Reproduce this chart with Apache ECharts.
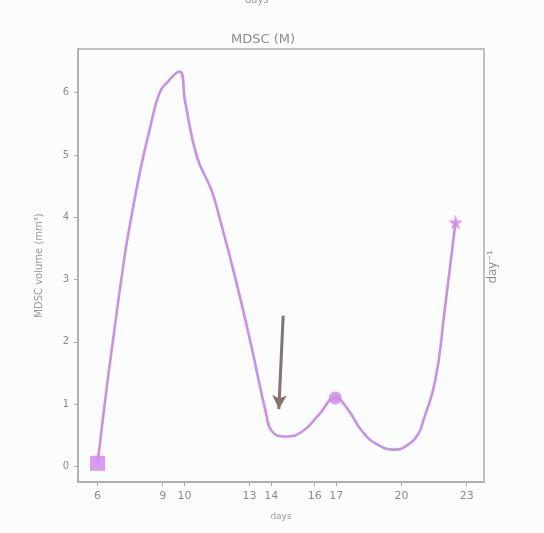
<!DOCTYPE html>
<html><head><meta charset="utf-8">
<script src="https://cdn.jsdelivr.net/npm/echarts@6/dist/echarts.min.js"></script>
<style>html,body{margin:0;padding:0;background:#fbfcfc}#c{width:544px;height:533px}</style>
</head><body><div id="c"></div>
<script>
// Data (days, MDSC volume)
const days = [6.0, 7.0, 7.76, 8.43, 8.86, 9.2, 9.76, 10.04, 10.58, 11.24, 11.61, 12.34, 13.06, 13.77, 14.04, 14.64, 15.43, 16.22, 16.95, 17.48, 18.2, 18.9, 19.7, 20.3, 20.77, 21.0, 21.55, 21.97, 22.49];
const volume = [0.05, 2.77, 4.39, 5.45, 6.0, 6.16, 6.34, 5.84, 4.97, 4.44, 4.0, 3.03, 1.97, 0.84, 0.56, 0.48, 0.56, 0.84, 1.10, 0.94, 0.56, 0.35, 0.27, 0.35, 0.52, 0.73, 1.37, 2.45, 3.92];
const markerDays = [6.0, 16.95, 22.49];
const markerValues = [0.05, 1.10, 3.92];
const xTicks = [6, 9, 10, 13, 14, 16, 17, 20, 23];
const yTicks = [0, 1, 2, 3, 4, 5, 6];
const arrowStart = [14.55, 2.42];
const arrowEnd = [14.35, 0.92];

const star = 'path://M50,0 L61,35 L98,35 L68,57 L79,92 L50,70 L21,92 L32,57 L2,35 L39,35 Z';
const markerSymbols = ['rect', 'circle', star];
const markerSizes = [15, 13, 15];

const gray = '#8c8c8c';
const chart = echarts.init(document.getElementById('c'), null, {renderer: 'canvas'});
chart.setOption({
  backgroundColor: '#fbfcfc',
  animation: false,
  title: {
    text: 'MDSC (M)', left: 258, top: 28, textAlign: 'center',
    textStyle: {fontSize: 13, fontWeight: 'normal', color: gray, fontFamily: 'DejaVu Sans'}
  },
  graphic: [
    {type: 'text', left: 245, top: -5, style: {text: 'days', fontSize: 10, fill: '#999', fontFamily: 'DejaVu Sans'}},
    {type: 'text', x: 493, y: 267, rotation: Math.PI / 2,
     style: {text: 'day\u207B\u00B9', fontSize: 12, fill: gray, align: 'center', verticalAlign: 'middle', fontFamily: 'DejaVu Sans'}}
  ],
  grid: {left: 78, right: 60, top: 49, bottom: 51, show: true, borderColor: '#a9adad', borderWidth: 1.5, backgroundColor: 'transparent'},
  xAxis: {
    type: 'value', min: 5.1, max: 23.8,
    name: 'days', nameLocation: 'middle', nameGap: 30,
    nameTextStyle: {fontSize: 9, color: '#999', fontFamily: 'DejaVu Sans'},
    axisLine: {show: true, onZero: false, lineStyle: {color: '#a9adad', width: 1.5}},
    axisTick: {show: true, length: 4, lineStyle: {color: '#a9adad'}, customValues: xTicks},
    axisLabel: {color: gray, fontSize: 11, margin: 9, fontFamily: 'DejaVu Sans', customValues: xTicks},
    splitLine: {show: false}
  },
  yAxis: {
    type: 'value', min: -0.25, max: 6.7,
    name: 'MDSC volume (mm\u00B3)', nameLocation: 'middle', nameGap: 34, nameRotate: 90,
    nameTextStyle: {fontSize: 10, color: '#999', fontFamily: 'DejaVu Sans'},
    axisLine: {show: true, onZero: false, lineStyle: {color: '#a9adad', width: 1.5}},
    axisTick: {show: true, length: 4, lineStyle: {color: '#a9adad'}, customValues: yTicks},
    axisLabel: {color: gray, fontSize: 10, margin: 9, fontFamily: 'DejaVu Sans', customValues: yTicks},
    splitLine: {show: false}
  },
  series: [
    {
      type: 'line', data: days.map((d, i) => [d, volume[i]]),
      smooth: 0.5, symbol: 'none',
      lineStyle: {color: '#c98fe9', width: 2.6},
      markLine: {
        silent: true, symbol: ['none', 'arrow'], symbolSize: [11, 14],
        lineStyle: {color: '#857470', width: 3, type: 'solid'},
        label: {show: false},
        data: [[{coord: arrowStart}, {coord: arrowEnd}]]
      }
    },
    {
      type: 'scatter',
      data: markerDays.map((d, i) => ({value: [d, markerValues[i]], symbol: markerSymbols[i], symbolSize: markerSizes[i]})),
      itemStyle: {color: '#d77ff0'}
    }
  ]
});
</script></body></html>
